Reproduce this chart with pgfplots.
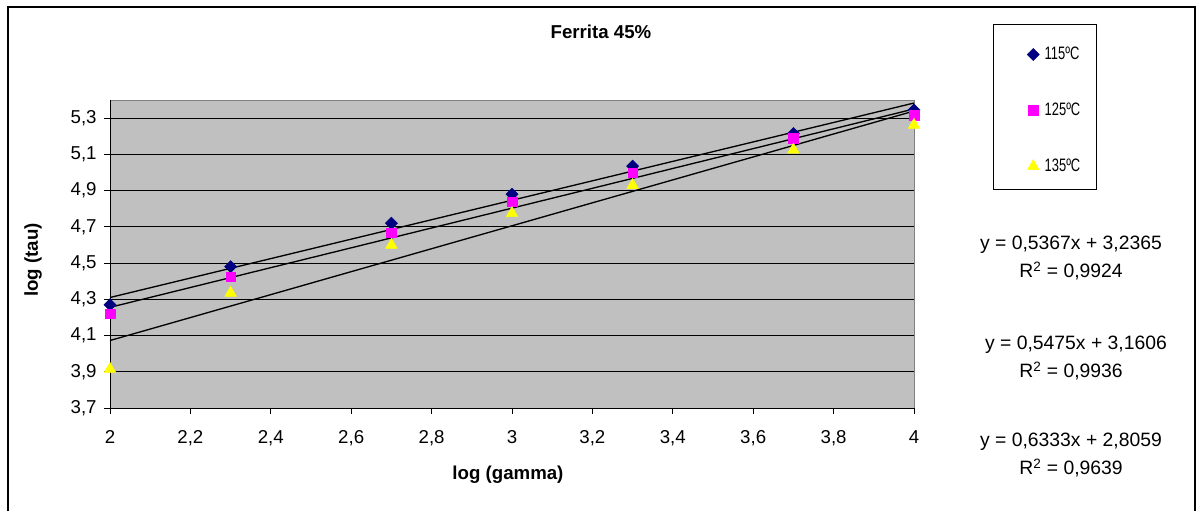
\documentclass[border=0pt]{standalone}
\usepackage{fontspec}
\setmainfont{Liberation Sans}
\newfontfamily\legfont[FakeStretch=0.72]{Liberation Sans}
\usepackage{pgfplots}
\pgfplotsset{compat=1.18}
\definecolor{plotgray}{HTML}{C0C0C0}
\definecolor{navyblue}{HTML}{000080}
\definecolor{magentac}{HTML}{FF00FF}
\definecolor{yellowc}{HTML}{FFFF00}
\begin{document}
\begin{tikzpicture}
\useasboundingbox (0,0) rectangle (897pt,383.25pt);
\begin{axis}[
  at={(82.5pt,77.25pt)}, anchor=south west,
  scale only axis, width=603pt, height=231pt,
  xmin=2, xmax=4, ymin=3.7, ymax=5.4,
  xtick={2,2.2,2.4,2.6,2.8,3,3.2,3.4,3.6,3.8,4},
  ytick={3.7,3.9,4.1,4.3,4.5,4.7,4.9,5.1,5.3},
  axis x line*=bottom, axis y line*=left,
  axis line style={black, line width=0.75pt, -},
  axis background/.style={fill=plotgray, draw=gray},
  tick align=outside, major tick length=4.5pt,
  tick style={black, line width=0.75pt},
  ymajorgrids, grid style={black, line width=0.6pt},
  /pgf/number format/assume math mode=true,
  /pgf/number format/use comma,
  /pgf/number format/fixed,
  /pgf/number format/precision=1,
  ticklabel style={font=\fontsize{14}{14}\selectfont},
  xticklabel style={yshift=-9pt},
  yticklabel style={xshift=-2pt},
  xlabel={log (gamma)}, ylabel={log (tau)},
  label style={font=\bfseries\fontsize{14}{14}\selectfont},
  xlabel style={at={(axis description cs:0.495,-0.2175)}, anchor=center},
  ylabel style={at={(axis description cs:-0.0958,0.48)}, anchor=center, rotate=0},
  clip=false,
  legend style={at={(1.1405,1.1721)}, anchor=north west, draw=none, fill=none,
    inner sep=0pt, row sep=31pt, column sep=4pt,
    font=\legfont\fontsize{13.5}{13.5}\selectfont, nodes={inner sep=0pt}},
  legend cell align=left,
  legend image code/.code={\draw[#1] plot coordinates {(0pt,0pt)};},
]
\addplot[only marks, mark=square*, mark size=3.2pt, color=navyblue, mark options={fill=navyblue, draw=navyblue, rotate=45}] coordinates {
 (2,4.27) (2.3,4.48) (2.7,4.72) (3,4.88) (3.3,5.035) (3.7,5.215) (4,5.345)};
\addlegendentry{115ºC}
\addplot[only marks, mark=square*, mark size=3.6pt, color=magentac, mark options={fill=magentac, draw=magentac}] coordinates {
 (2,4.22) (2.3,4.425) (2.7,4.668) (3,4.838) (3.3,4.998) (3.7,5.188) (4,5.317)};
\addlegendentry{125ºC}
\addplot[only marks, mark=triangle*, mark size=5pt, color=yellowc, mark options={fill=yellowc, draw=yellowc}] coordinates {
 (2,3.915) (2.3,4.335) (2.7,4.60) (3,4.775) (3.3,4.93) (3.7,5.125) (4,5.262)};
\addlegendentry{135ºC}
\addplot[black, line width=1pt, forget plot] coordinates {(2,4.3099) (4,5.3833)};
\addplot[black, line width=1pt, forget plot] coordinates {(2,4.2556) (4,5.3506)};
\addplot[black, line width=1pt, forget plot] coordinates {(2,4.0725) (4,5.3391)};
\end{axis}
\begin{scope}[shift={(0pt,383.25pt)}, x=0.75pt, y=-0.75pt]
\draw[line width=1pt] (8,511) -- (8,7) -- (1195,7) -- (1195,511);
\draw[line width=0.75pt] (993,25) rectangle (1096,190);
\node[font=\bfseries\fontsize{14}{14}\selectfont] at (601,32) {Ferrita 45\%};
\begin{scope}[every node/.style={font=\fontsize{14.5}{14.5}\selectfont}]
\node at (1071,245) {y = 0,5367x + 3,2365};
\node at (1071,271) {R\textsuperscript{2} = 0,9924};
\node at (1076,345) {y = 0,5475x + 3,1606};
\node at (1071,371) {R\textsuperscript{2} = 0,9936};
\node at (1071,442) {y = 0,6333x + 2,8059};
\node at (1071,468) {R\textsuperscript{2} = 0,9639};
\end{scope}
\end{scope}
\end{tikzpicture}
\end{document}
